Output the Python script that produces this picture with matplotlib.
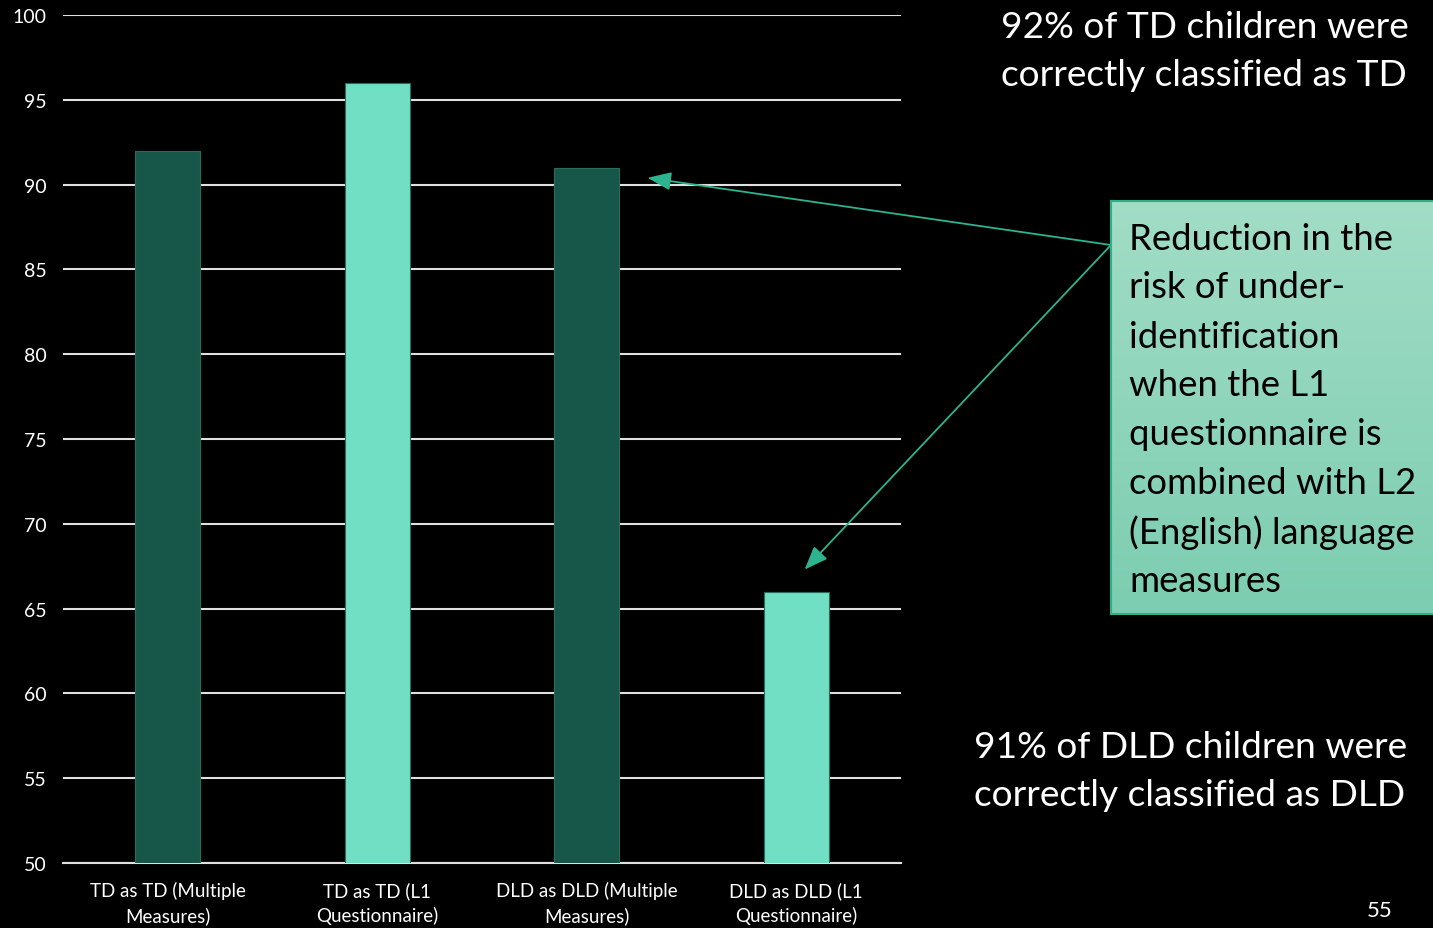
import matplotlib
matplotlib.use("Agg")
import matplotlib.pyplot as plt
import numpy as np

categories = ["TD as TD (Multiple\nMeasures)", "TD as TD (L1\nQuestionnaire)",
              "DLD as DLD (Multiple\nMeasures)", "DLD as DLD (L1\nQuestionnaire)"]
values = [92, 96, 91, 66]
bar_colors = ["#17574A", "#70DFC4", "#17574A", "#70DFC4"]
y_ticks = [50, 55, 60, 65, 70, 75, 80, 85, 90, 95, 100]

plt.rcParams["font.family"] = ["Lato", "DejaVu Sans"]

W, H = 1433, 929
fig = plt.figure(figsize=(W / 100, H / 100), dpi=100, facecolor="black")

def fx(px):
    return px / W

def fy(py):
    return 1 - py / H

ax = fig.add_axes([fx(63), fy(864), fx(901) - fx(63), fy(16) - fy(864)])
ax.set_facecolor("black")
x = np.arange(len(categories))
ax.bar(x, values, width=0.31, color=bar_colors, edgecolor="#2A6B5C",
       linewidth=0.8, zorder=3)
ax.set_xlim(-0.5, len(categories) - 0.5)
ax.set_ylim(50, 100)
ax.set_yticks(y_ticks)
ax.set_xticks(x)
ax.set_xticklabels(categories, color="white", fontsize=13.5, linespacing=1.45)
ax.tick_params(axis="y", colors="white", labelsize=14, length=0, pad=12)
ax.tick_params(axis="x", length=0, pad=13)
ax.grid(axis="y", color="#E0E0E0", linewidth=1.5, zorder=1)
for s in ["top", "right", "left"]:
    ax.spines[s].set_visible(False)
ax.spines["bottom"].set_color("#E0E0E0")
ax.spines["bottom"].set_linewidth(1.5)

# Callout box with vertical gradient
bx0, by0, bx1, by1 = 1111, 202, 1440, 615
bax = fig.add_axes([fx(bx0), fy(by1), fx(bx1) - fx(bx0), fy(by0) - fy(by1)])
top = np.array([0xA2, 0xDD, 0xC6]) / 255
bot = np.array([0x7C, 0xCD, 0xB1]) / 255
t = np.linspace(0, 1, 256)[:, None]
grad = (top[None, :] * (1 - t) + bot[None, :] * t)[:, None, :]
bax.imshow(grad, aspect="auto", extent=[0, 1, 0, 1], origin="upper")
bax.set_xlim(0, 1)
bax.set_ylim(0, 1)
bax.set_xticks([])
bax.set_yticks([])
for s in bax.spines.values():
    s.set_color("#2FAE8A")
    s.set_linewidth(1.5)

box_lines = ["Reduction in the", "risk of under-", "identification", "when the L1",
             "questionnaire is", "combined with L2", "(English) language", "measures"]
for i, line in enumerate(box_lines):
    fig.text(fx(1129), fy(239 + 49 * i), line, fontsize=26.3, color="black",
             ha="left", va="center")

big = 26.7
fig.text(fx(1001), fy(27), "92% of TD children were", fontsize=big, color="white",
         ha="left", va="center")
fig.text(fx(1001), fy(76), "correctly classified as TD", fontsize=big, color="white",
         ha="left", va="center")
fig.text(fx(974), fy(747), "91% of DLD children were", fontsize=big, color="white",
         ha="left", va="center")
fig.text(fx(974), fy(796), "correctly classified as DLD", fontsize=big, color="white",
         ha="left", va="center")
fig.text(fx(1380), fy(911), "55", fontsize=16, color="white", ha="center", va="center")

# Arrows from the callout to the bars
arrow_src = (fx(1111), fy(246))
arrow_targets = [(2.29, 90.4), (3.04, 67.3)]
for tx, ty in arrow_targets:
    ax.annotate("", xy=(tx, ty), xycoords="data", xytext=arrow_src,
                textcoords="figure fraction",
                arrowprops=dict(arrowstyle="-|>,head_length=0.9,head_width=0.35",
                                color="#2DB38E", lw=1.3, mutation_scale=16,
                                shrinkA=0, shrinkB=0),
                annotation_clip=False, zorder=10)

fig.savefig("out.png", dpi=100, facecolor="black")
